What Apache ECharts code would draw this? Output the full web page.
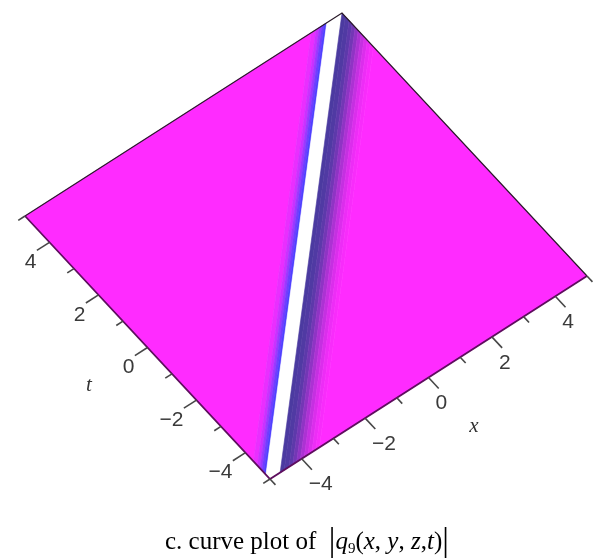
<!DOCTYPE html>
<html>
<head>
<meta charset="utf-8">
<title>|q9(x, y, z, t)|</title>
<script src="https://cdn.jsdelivr.net/npm/echarts@6/dist/echarts.min.js"></script>
<style>
  html, body { margin: 0; padding: 0; background: #ffffff; }
  #main { width: 597px; height: 558px; }
</style>
</head>
<body>
<div id="main"></div>
<script>
// Domain of the surface |q9(x, y, z, t)|
const xRange = [-5, 5];
const tRange = [-5, 5];

// Axis ticks (labelled and unlabelled)
const majorTicks = [-4, -2, 0, 2, 4];
const minorTicks = [-5, -3, -1, 1, 3, 5];

// Crest line of the wave: x position of the crest at t = -5 and at t = 5
const crestT = [-5, 5];
const crestX = [-4.9, 4.78];

// Cross-section across the crest: band edges (offset in x from the crest)
// and the surface level inside each band
const bandEdges = [-10, -0.75, -0.6, -0.5, -0.42, -0.34, -0.26, 0.22, 0.35, 0.5, 0.62, 0.74, 0.86, 0.98, 1.1, 1.22, 1.34, 1.46, 10];
const bandLevel = [0, 0.12, 0.3, 0.55, 0.8, 1.0, 2, -1, -0.97, -0.9, -0.78, -0.62, -0.46, -0.32, -0.2, -0.1, -0.04, 0];

// Screen frame of the plot box (orthographic view from above):
// corner (x, t) = (-5, -5) and the screen vectors of the x and t edges
const frame = { origin: [270, 479], xEdge: [317, -203], tEdge: [-245, -263] };

const chart = echarts.init(document.getElementById('main'), null, { renderer: 'canvas' });

const slope = (crestX[1] - crestX[0]) / (crestT[1] - crestT[0]);
const shift = crestX[0] - slope * crestT[0];

const bands = bandLevel.map((v, i) => [bandEdges[i], bandEdges[i + 1], v]);
const tickData = majorTicks.map(v => [v, 1]).concat(minorTicks.map(v => [v, 0]));

const square = [
  [xRange[0], tRange[0]], [xRange[1], tRange[0]],
  [xRange[1], tRange[1]], [xRange[0], tRange[1]]
];

// (x, t) -> screen, going through the cartesian axes and then the view frame
function projector(params, api) {
  const cs = params.coordSys;
  return function (x, t) {
    const p = api.coord([x, t]);
    const fx = (p[0] - cs.x) / cs.width;
    const ft = (cs.y + cs.height - p[1]) / cs.height;
    return [
      frame.origin[0] + fx * frame.xEdge[0] + ft * frame.tEdge[0],
      frame.origin[1] + fx * frame.xEdge[1] + ft * frame.tEdge[1]
    ];
  };
}

// Keep the part of a polygon where f >= 0
function clip(poly, f) {
  const out = [];
  for (let i = 0; i < poly.length; i++) {
    const a = poly[i], b = poly[(i + 1) % poly.length];
    const fa = f(a), fb = f(b);
    if (fa >= 0) out.push(a);
    if ((fa >= 0) !== (fb >= 0)) {
      const r = fa / (fa - fb);
      out.push([a[0] + r * (b[0] - a[0]), a[1] + r * (b[1] - a[1])]);
    }
  }
  return out;
}

function fmt(v) {
  return v < 0 ? '\u2212' + Math.abs(v) : String(v);
}

function renderBand(params, api) {
  const lo = api.value(0), hi = api.value(1);
  let poly = clip(square, p => p[0] - slope * p[1] - shift - lo);
  poly = clip(poly, p => hi - (p[0] - slope * p[1] - shift));
  if (poly.length < 3) return null;
  const proj = projector(params, api);
  const color = api.visual('color');
  return {
    type: 'polygon',
    shape: { points: poly.map(p => proj(p[0], p[1])) },
    style: { fill: color, stroke: color, lineWidth: 0.6 }
  };
}

function renderFrame(params, api) {
  const proj = projector(params, api);
  const c = square.map(p => proj(p[0], p[1]));
  const tName = proj(xRange[0] - 1.85, 0);
  const xName = proj(0, tRange[0] - 1.85);
  const nameStyle = { font: 'italic 21px "Liberation Serif"', fill: '#333333', align: 'center', verticalAlign: 'middle' };
  return {
    type: 'group',
    children: [
      { type: 'polyline', shape: { points: [c[3], c[2], c[1]] }, style: { stroke: '#2a1a2a', lineWidth: 1.2, fill: null } },
      { type: 'polyline', shape: { points: [c[3], c[0], c[1]] }, style: { stroke: '#5e0e5e', lineWidth: 1.8, fill: null } },
      { type: 'text', x: tName[0], y: tName[1], style: Object.assign({ text: 't' }, nameStyle) },
      { type: 'text', x: xName[0], y: xName[1], style: Object.assign({ text: 'x' }, nameStyle) }
    ]
  };
}

function tickRenderer(axis) {
  return function (params, api) {
    const proj = projector(params, api);
    const v = api.value(0), major = api.value(1);
    let base, ref;
    if (axis === 't') {
      base = proj(xRange[0], v);
      ref = proj(xRange[0] + 1, v);
    } else {
      base = proj(v, tRange[0]);
      ref = proj(v, tRange[0] + 1);
    }
    const len = Math.hypot(base[0] - ref[0], base[1] - ref[1]);
    const dir = [(base[0] - ref[0]) / len, (base[1] - ref[1]) / len];
    const L = major ? 15 : 8;
    const children = [{
      type: 'line',
      shape: { x1: base[0], y1: base[1], x2: base[0] + dir[0] * L, y2: base[1] + dir[1] * L },
      style: { stroke: '#474747', lineWidth: 1.6 }
    }];
    if (major) {
      const lab = axis === 't'
        ? { x: base[0] - 13, y: base[1] + 20, align: 'right' }
        : { x: base[0] + 7, y: base[1] + 26, align: 'left' };
      children.push({
        type: 'text', x: lab.x, y: lab.y,
        style: { text: fmt(v), align: lab.align, verticalAlign: 'middle', font: '21px "Liberation Sans"', fill: '#3a3a3a' }
      });
    }
    return { type: 'group', children };
  };
}

const option = {
  animation: false,
  backgroundColor: '#ffffff',
  title: {
    left: 160,
    top: 522,
    text: '{r|c. curve plot of  }{bar||}{i|q}{sub|9}{r|(}{i|x}{r|, }{i|y}{r|, }{i|z}{r|,}{i|t}{r|)}{bar||}',
    textStyle: {
      fontWeight: 'normal',
      rich: {
        r: { fontFamily: 'Liberation Serif', fontWeight: 'normal', fontSize: 25, color: '#000', lineHeight: 30 },
        i: { fontFamily: 'Liberation Serif', fontWeight: 'normal', fontStyle: 'italic', fontSize: 25, color: '#000', lineHeight: 30 },
        sub: { fontFamily: 'Liberation Serif', fontWeight: 'normal', fontSize: 15, color: '#000', lineHeight: 30, verticalAlign: 'bottom' },
        bar: { fontFamily: 'Liberation Serif', fontWeight: 'normal', fontSize: 33, color: '#000', lineHeight: 30 }
      }
    }
  },
  grid: { left: 0, top: 0, width: 100, height: 100, show: false },
  xAxis: { type: 'value', min: xRange[0], max: xRange[1], show: false },
  yAxis: { type: 'value', min: tRange[0], max: tRange[1], show: false },
  visualMap: {
    show: false,
    type: 'continuous',
    seriesIndex: 0,
    dimension: 2,
    min: -1,
    max: 2,
    inRange: { color: ['#4b3aa0', '#ff2bff', '#5040ff', '#ffffff'] }
  },
  series: [
    { name: 'surface', type: 'custom', coordinateSystem: 'cartesian2d', renderItem: renderBand, data: bands, silent: true },
    { name: 'frame', type: 'custom', coordinateSystem: 'cartesian2d', renderItem: renderFrame, data: [[0, 0]], silent: true },
    { name: 't axis', type: 'custom', coordinateSystem: 'cartesian2d', renderItem: tickRenderer('t'), data: tickData, silent: true },
    { name: 'x axis', type: 'custom', coordinateSystem: 'cartesian2d', renderItem: tickRenderer('x'), data: tickData, silent: true }
  ]
};

chart.setOption(option);
</script>
</body>
</html>
